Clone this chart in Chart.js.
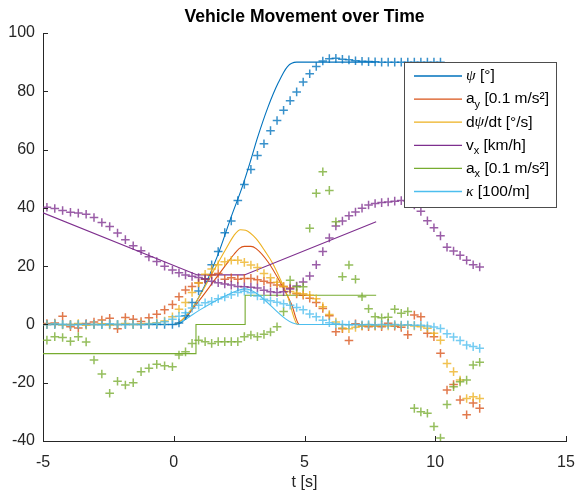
<!DOCTYPE html>
<html><head><meta charset="utf-8">
<script src="https://cdn.jsdelivr.net/npm/chart.js@4/dist/chart.umd.min.js"></script>
<style>html,body{margin:0;padding:0;background:#fff;}</style>
</head><body>
<canvas id="c" width="575" height="495"></canvas>
<script>
// ---------- data ----------
const chartTitle = 'Vehicle Movement over Time';
const xTitle = 't [s]';
const xTicks = [-5, 0, 5, 10, 15];
const yTicks = [-40, -20, 0, 20, 40, 60, 80, 100];
const colors = ['#0072BD', '#D95319', '#EDB120', '#7E2F8E', '#77AC30', '#4DBEEE'];
const markerColors = ['rgba(0,114,189,0.78)', 'rgba(217,83,25,0.78)', 'rgba(237,177,32,0.78)', 'rgba(126,47,142,0.78)', 'rgba(119,172,48,0.78)', 'rgba(77,190,238,0.78)'];
const legendLabels = [
  [{t:'ψ', it:true}, {t:' [°]'}],
  [{t:'a'}, {t:'y', sub:true}, {t:' [0.1 m/s²]'}],
  [{t:'d'}, {t:'ψ', it:true}, {t:'/dt [°/s]'}],
  [{t:'v'}, {t:'x', sub:true}, {t:' [km/h]'}],
  [{t:'a'}, {t:'x', sub:true}, {t:' [0.1 m/s²]'}],
  [{t:'κ', it:true}, {t:' [100/m]'}]
];

// model (lines)
const psiLineT = [-5, 0, 0.4, 1.0, 1.65, 2.2, 2.65, 2.95, 3.2, 3.6, 4.0, 4.35, 4.7, 7.75];
const psiLineV = [0, 0, 1.5, 10, 23, 37, 48, 56.5, 64, 74.5, 83, 88.5, 90, 90];
const ayLineT = [-5, 0, 0.5, 1.0, 1.5, 2.0, 2.3, 2.5, 2.7, 2.95, 3.15, 3.6, 4.1, 4.5, 4.8, 7.75];
const ayLineV = [0, 0, 3, 8.5, 14.5, 20.5, 24, 26, 26.8, 26.8, 26, 21.5, 14, 7, 0, 0];
const dpsiLineT = [-5, 0, 0.65, 1.1, 1.54, 2.0, 2.3, 2.55, 2.75, 3.14, 3.5, 3.78, 4.1, 4.36, 4.74, 7.75];
const dpsiLineV = [0, 0, 5, 11.5, 18.7, 26, 30.5, 32.5, 32.3, 29.5, 25, 21, 15, 9.5, 0, 0];
const vxLineT = [-5, 0.9, 2.7, 7.74];
const vxLineV = [38.3, 17, 17, 35.2];
const axLineT = [-5, 0.85, 0.85, 2.73, 2.73, 7.74];
const axLineV = [-10, -10, 0, 0, 10, 10];
const kappaLineT = [-5, 0, 0.3, 1.0, 1.9, 2.4, 2.7, 4.8, 7.75];
const kappaLineV = [0, 0, 1, 5, 9.5, 11.5, 12.2, 0, 0];

// measurements (markers)
const tMeas = [-4.85,-4.55,-4.25,-3.95,-3.65,-3.35,-3.05,-2.75,-2.45,-2.15,-1.85,-1.55,-1.25,-0.95,-0.65,-0.35,-0.05,
  0.2,0.45,0.7,0.95,1.2,1.45,1.7,1.95,2.2,2.45,2.7,2.95,3.2,3.45,3.7,3.95,4.2,4.45,4.7,4.95,5.2,5.45,5.7,5.95,
  6.2,6.45,6.7,6.95,7.2,7.45,7.7,7.95,8.2,8.45,8.7,8.95,9.2,9.45,9.7,9.95,10.2,10.45,10.7,10.95,11.2,11.45,11.7];
const psiMeas = [0,0,0,0,0,0,0,0,0,0,0,0,0,0,0,0,0,
  0.5,3,7.5,11.5,15.5,20.5,25,31.5,35.5,42.5,48,53.2,58,62,66.5,70,73.5,76.8,79.8,83.2,86,88.5,90.4,91.2,
  91.3,91,90.8,90.5,90.3,90.2,90.1,90,90,90,90,90,90,90,90,90,90,null,null,null,null,null,null];
const ayMeas = [0.3,0.5,2.8,-0.8,-1.2,0.3,0.8,1.5,2.1,-1.5,2.4,1.8,1.0,2.3,3.5,5,6.8,
  9.5,11.8,13,14.2,15.5,17,17.5,15.5,16,15.5,15.8,15.8,15.3,14.8,14.3,13.5,13,12.5,10.5,10,9,7.5,5.5,3,
  -2.5,-1.5,-5.5,0.2,-0.5,-0.8,-0.5,-0.8,0.4,-0.6,-1,-3.5,3.2,2.6,-3,-4.2,-9.9,-22.5,-20.6,-25.9,-31,-27,-28.8];
const dpsiMeas = [0,0.2,-0.2,0,0.3,-0.3,0,0.2,-0.2,0,0.3,0,0.2,0.3,0.6,1.2,2.6,
  5.2,7.5,11,14.3,17.2,19,20.5,21.5,22,22,21.3,20.4,19.5,17.5,16,14.5,13,11.3,10.8,10.5,10,8.8,6.1,3.4,
  0.8,-1.2,-1.5,-1,-0.5,-0.3,-0.5,-0.3,-0.5,-0.2,-0.4,-0.3,-0.5,-0.8,-1.3,-3,-5.4,-13.4,-16.2,-19.1,-25.4,-24.8,-25.4];
const vxMeas = [40.2,39.8,39.1,38.5,38.2,37.8,36.7,35,33.6,31.4,29.1,27,25.3,23.2,21.6,20,18.7,
  17.7,17,16.5,16.1,15.7,14.8,14.3,13.9,13.5,13,12.9,12.8,12.5,11.7,11.2,11,11.2,12.2,13.2,14.6,16.6,20.5,25,29.7,
  33.8,35.5,37.3,38.6,39.9,41,41.5,41.8,42,42.3,42.5,42.3,41,38.8,35.6,33.2,30.4,26.5,25.2,23.7,22,20.5,19.7];
const axMeas = [-5.4,-4.2,-4.5,-5.8,-4.2,-6,-12.2,-17,-23.6,-19.5,-20.8,-20,-16.2,-15,-13.7,-14.2,-14.5,
  -10.5,-9.4,-6.5,-5.4,-5.9,-6.5,-5.9,-5.9,-5.9,-5.9,-4.2,-3.6,-4.2,-3.4,-2.6,-0.8,4.4,15.2,12.9,12.9,33,45,52.4,46,
  35.2,16.4,20.4,15.5,9.5,5.4,2.6,2.3,2.5,5.2,3.8,4.4,-28.8,-30,-30.5,-35,-39,-27.5,-21.4,-19.7,-19.1,-13.9,-13];
const kappaMeas = [0,0.2,0,-0.2,0,0.1,0,-0.1,0.2,0,0,0.1,0,0.2,0.4,0.9,1.8,
  2.8,4,5.6,6.6,7.4,7.9,8.8,9.4,10.2,11,11.4,10.9,9.8,8.6,8.1,7.6,7.1,6.6,5.8,5,3.6,2.6,1.4,0.6,
  0.2,0,-0.2,0,-0.1,0,-0.2,0,-0.1,0,-0.2,-0.1,-0.3,-0.3,-0.5,-0.9,-1.4,-3.2,-4.3,-5.5,-7.1,-7.6,-8.2];

// ---------- build ----------
const FONT = '"Liberation Sans", Arial, sans-serif';
const pts = (T, V) => T.map((t, i) => ({x: t, y: V[i]})).filter(p => p.y !== null && p.y !== undefined);
const lineSets = [
  [psiLineT, psiLineV, 'monotone'], [ayLineT, ayLineV, 'monotone'], [dpsiLineT, dpsiLineV, 'monotone'],
  [vxLineT, vxLineV, null], [axLineT, axLineV, null], [kappaLineT, kappaLineV, 'monotone']
];
const measSets = [psiMeas, ayMeas, dpsiMeas, vxMeas, axMeas, kappaMeas];
const datasets = [];
lineSets.forEach((s, i) => {
  const d = {
    type: 'line', data: pts(s[0], s[1]), borderColor: colors[i], borderWidth: 1.1,
    pointRadius: 0, fill: false, order: 20 - i
  };
  if (s[2]) d.cubicInterpolationMode = s[2];
  datasets.push(d);
});
measSets.forEach((v, i) => {
  datasets.push({
    type: 'line', data: pts(tMeas, v), showLine: false, pointStyle: 'cross',
    pointRadius: 4.3, pointBorderWidth: 1.5, borderColor: markerColors[i], pointBorderColor: markerColors[i],
    backgroundColor: markerColors[i], order: 10 - i
  });
});

const inwardTicks = {
  id: 'inwardTicks',
  afterDatasetsDraw(chart) {
    const {ctx, chartArea: a, scales: {x, y}} = chart;
    ctx.save();
    ctx.strokeStyle = '#262626'; ctx.lineWidth = 1;
    x.ticks.forEach(t => {
      const px = Math.round(x.getPixelForValue(t.value)) + 0.5;
      ctx.beginPath(); ctx.moveTo(px, a.bottom); ctx.lineTo(px, a.bottom - 5); ctx.stroke();
    });
    y.ticks.forEach(t => {
      const py = Math.round(y.getPixelForValue(t.value)) + 0.5;
      ctx.beginPath(); ctx.moveTo(a.left, py); ctx.lineTo(a.left + 5, py); ctx.stroke();
    });
    ctx.restore();
  }
};

const boxLegend = {
  id: 'boxLegend',
  afterDatasetsDraw(chart) {
    const {ctx, chartArea: a} = chart;
    const bx = a.right - 162, by = a.top + 29, bw = 152, bh = 145;
    ctx.save();
    ctx.fillStyle = '#fff';
    ctx.fillRect(bx, by, bw, bh);
    ctx.strokeStyle = '#4d4d4d'; ctx.lineWidth = 1;
    ctx.strokeRect(Math.round(bx) + 0.5, Math.round(by) + 0.5, bw, bh);
    const base = '15.5px ' + FONT;
    const greek = 'italic 15.5px "Liberation Serif", serif';
    const small = '11px ' + FONT;
    legendLabels.forEach((parts, i) => {
      const yy = by + 14 + i * 23.1;
      ctx.strokeStyle = colors[i]; ctx.lineWidth = 1.3;
      ctx.beginPath(); ctx.moveTo(bx + 10, yy); ctx.lineTo(bx + 58, yy); ctx.stroke();
      let xx = bx + 62;
      ctx.fillStyle = '#000'; ctx.textBaseline = 'middle'; ctx.textAlign = 'left';
      parts.forEach(p => {
        ctx.font = p.sub ? small : (p.it ? greek : base);
        ctx.fillText(p.t, xx, p.sub ? yy + 6 : yy);
        xx += ctx.measureText(p.t).width;
      });
    });
    ctx.restore();
  }
};

new Chart(document.getElementById('c'), {
  data: {datasets},
  options: {
    responsive: false, animation: false, devicePixelRatio: 1, events: [],
    layout: {padding: {left: 0, right: 9, top: 0, bottom: 0}},
    plugins: {
      legend: {display: false}, tooltip: {enabled: false},
      title: {
        display: true, text: chartTitle, fullSize: false, color: '#000',
        font: {family: FONT, size: 17.6, weight: 'bold'},
        padding: {top: 6.4, bottom: 5.5}
      }
    },
    scales: {
      x: {
        type: 'linear', min: -5, max: 15,
        afterBuildTicks: s => { s.ticks = xTicks.map(v => ({value: v})); },
        afterFit: s => { s.height = 54; s.paddingLeft = 0; s.paddingRight = 0; },
        ticks: {color: '#262626', font: {family: FONT, size: 16}, padding: 12, maxRotation: 0},
        grid: {display: false, drawTicks: false}, border: {display: true, color: '#262626', width: 1},
        title: {display: true, text: xTitle, color: '#262626', font: {family: FONT, size: 16}, padding: {top: 0, bottom: 3}}
      },
      y: {
        type: 'linear', min: -40, max: 100,
        afterBuildTicks: s => { s.ticks = yTicks.map(v => ({value: v})); },
        afterFit: s => { s.width = 43; s.paddingTop = 0; s.paddingBottom = 0; },
        ticks: {color: '#262626', font: {family: FONT, size: 16}, padding: 8},
        grid: {display: false, drawTicks: false}, border: {display: true, color: '#262626', width: 1}
      }
    }
  },
  plugins: [inwardTicks, boxLegend]
});
</script>
</body></html>
